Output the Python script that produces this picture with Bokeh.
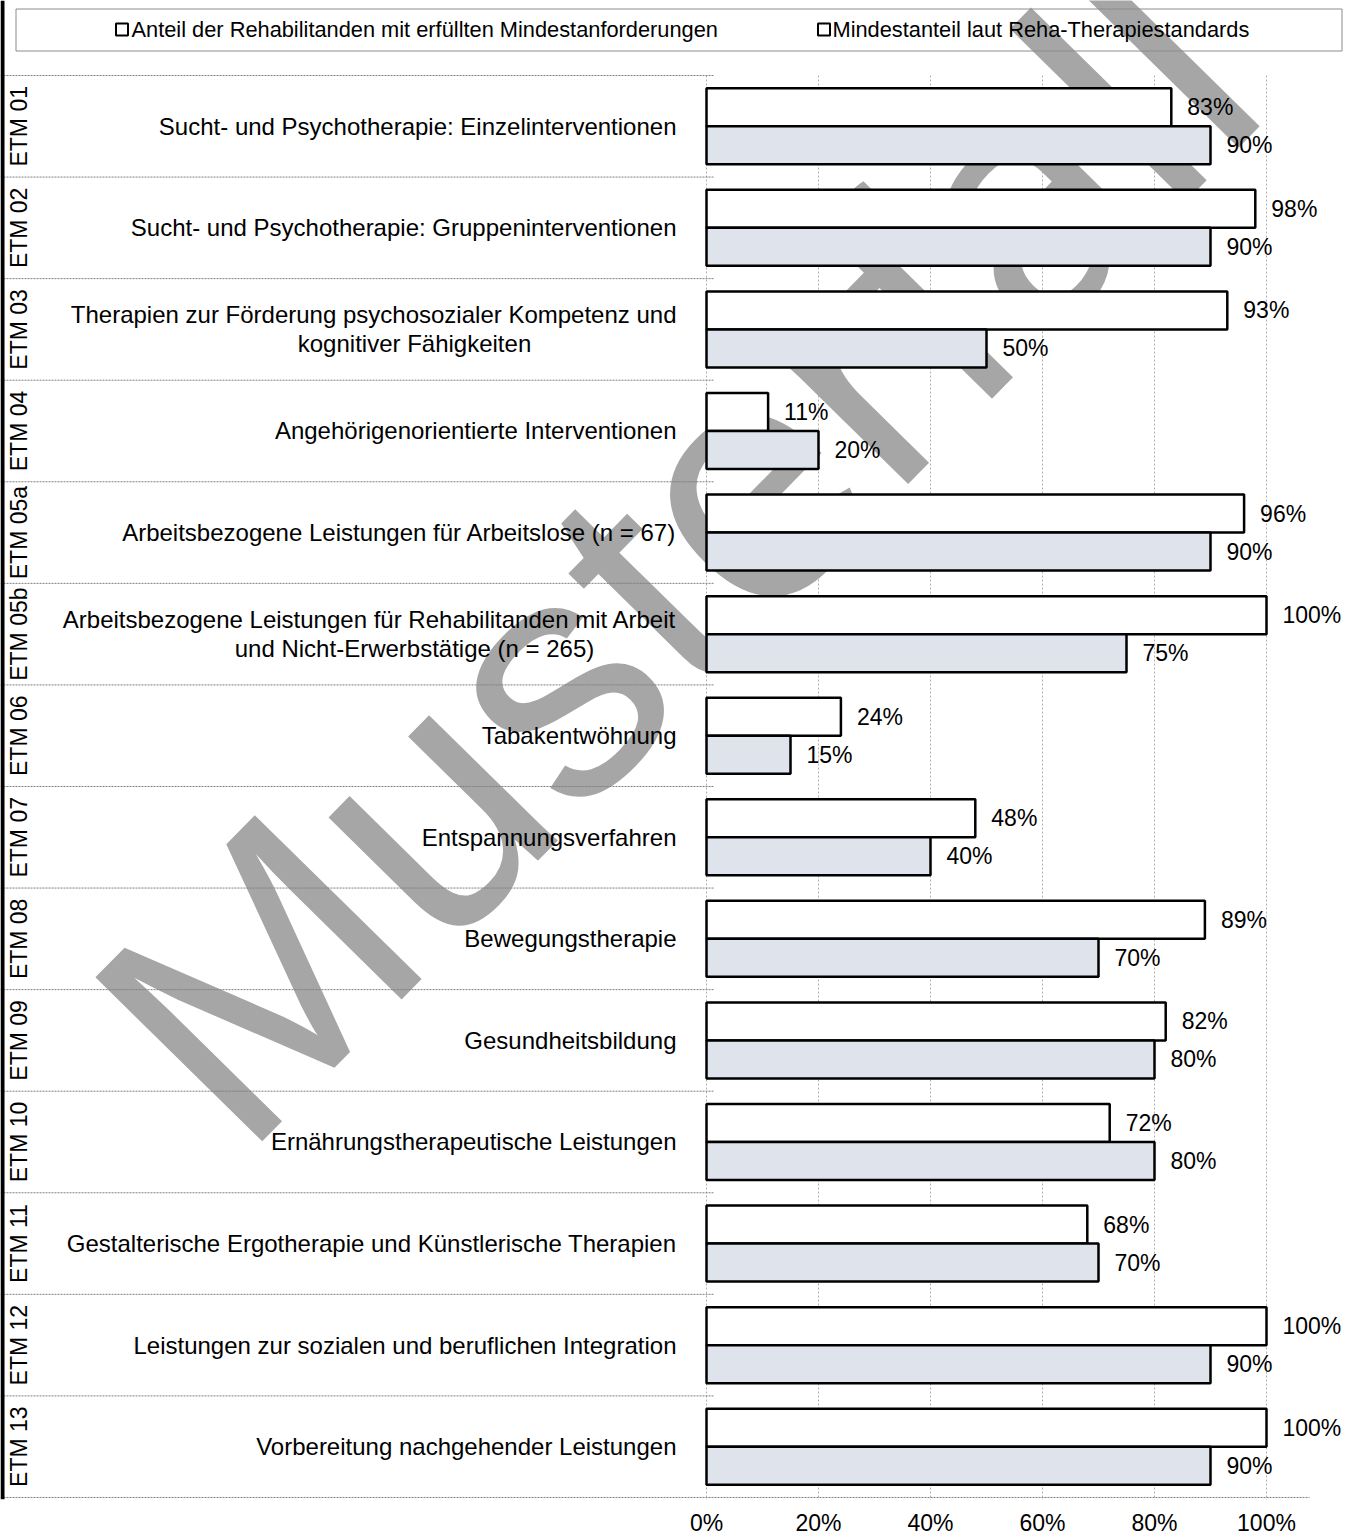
import math
from bokeh.plotting import figure
from bokeh.models import Range1d, FixedTicker, Span
from bokeh.core.properties import value
from bokeh.embed import file_html
from bokeh.resources import INLINE

# ---------------- data ----------------
codes = ["ETM 01", "ETM 02", "ETM 03", "ETM 04", "ETM 05a", "ETM 05b", "ETM 06",
         "ETM 07", "ETM 08", "ETM 09", "ETM 10", "ETM 11", "ETM 12", "ETM 13"]
labels = [
    "Sucht- und Psychotherapie: Einzelinterventionen",
    "Sucht- und Psychotherapie: Gruppeninterventionen",
    "Therapien zur Förderung psychosozialer Kompetenz und\nkognitiver Fähigkeiten",
    "Angehörigenorientierte Interventionen",
    "Arbeitsbezogene Leistungen für Arbeitslose (n = 67)",
    "Arbeitsbezogene Leistungen für Rehabilitanden mit Arbeit\nund Nicht-Erwerbstätige (n = 265)",
    "Tabakentwöhnung",
    "Entspannungsverfahren",
    "Bewegungstherapie",
    "Gesundheitsbildung",
    "Ernährungstherapeutische Leistungen",
    "Gestalterische Ergotherapie und Künstlerische Therapien",
    "Leistungen zur sozialen und beruflichen Integration",
    "Vorbereitung nachgehender Leistungen",
]
actual = [83, 98, 93, 11, 96, 100, 24, 48, 89, 82, 72, 68, 100, 100]
standard = [90, 90, 50, 20, 90, 75, 15, 40, 70, 80, 80, 70, 90, 90]
ticks = [0, 20, 40, 60, 80, 100]
legend_labels = ["Anteil der Rehabilitanden mit erfüllten Mindestanforderungen",
                 "Mindestanteil laut Reha-Therapiestandards"]
watermark = "Musterfall"

# ---------------- layout ----------------
W, H = 1358, 1499          # frame size in px
X0 = 706                   # px position of 0 %
PX = 5.6                   # px per percent
U = 101.57                 # px per category row
SEP_TOP = 75               # px of the first row separator
FONT = "Liberation Sans"
BAR_H = 38 / U

def X(fx):
    return (fx - X0) / PX

y_top = -SEP_TOP / U
def Y(fy):
    return y_top + fy / U

x_start, x_end = X(0), X(W)
y_bottom = Y(H)
n = len(codes)

p = figure(frame_width=W, frame_height=H, min_border=0,
           x_range=Range1d(x_start, x_end), y_range=Range1d(y_bottom, y_top),
           output_backend="svg", toolbar_location=None,
           y_axis_location=None, outline_line_color=None)
p.xgrid.visible = False
p.ygrid.visible = False
p.background_fill_color = "white"
p.border_fill_color = "white"

# x axis
ax = p.xaxis[0]
ax.ticker = FixedTicker(ticks=ticks)
ax.major_label_overrides = {t: f"{t}%" for t in ticks}
ax.axis_line_color = None
ax.major_tick_line_color = None
ax.minor_tick_line_color = None
ax.major_label_text_font = FONT
ax.major_label_text_font_size = "23px"
ax.major_label_text_color = "black"
ax.major_label_standoff = 4

# vertical grid lines
p.segment(x0=ticks, x1=ticks, y0=[0] * len(ticks), y1=[n + 8 / U] * len(ticks),
          line_color="#b0b0b0", line_width=1, line_dash="2 2", level="underlay")

# watermark
p.text(x=[X(158)], y=[Y(1078)], text=[watermark], angle=math.radians(45.5),
       text_font=value(FONT), text_font_size="340px", text_color="#a6a6a6",
       text_align="left", text_baseline="alphabetic", level="underlay")

# category separators
seps = list(range(n + 1))
p.segment(x0=[x_start] * len(seps), x1=[X(713)] * (len(seps) - 1) + [X(1309)],
          y0=seps, y1=seps, line_color="#7f7f7f", line_width=1, line_dash="2 1")

# bars
centers = [i + 0.5 for i in range(n)]
y_act = [c - BAR_H / 2 for c in centers]
y_std = [c + BAR_H / 2 for c in centers]
p.hbar(y=y_act, left=0, right=actual, height=BAR_H, fill_color="white",
       line_color="black", line_width=2.5)
p.hbar(y=y_std, left=0, right=standard, height=BAR_H, fill_color="#dfe3ec",
       line_color="black", line_width=2.5)

# value labels
p.text(x=actual, y=y_act, text=[f"{v}%" for v in actual], x_offset=16,
       text_font=value(FONT), text_font_size="23px", text_color="black",
       text_align="left", text_baseline="middle")
p.text(x=standard, y=y_std, text=[f"{v}%" for v in standard], x_offset=16,
       text_font=value(FONT), text_font_size="23px", text_color="black",
       text_align="left", text_baseline="middle")

# category labels
one_y, one_t = [], []
l1_y, l1_t, l2_y, l2_t = [], [], [], []
for c, lab in zip(centers, labels):
    parts = lab.split("\n")
    if len(parts) == 1:
        one_y.append(c); one_t.append(lab)
    else:
        l1_y.append(c - 14.5 / U); l1_t.append(parts[0])
        l2_y.append(c + 14.5 / U); l2_t.append(parts[1])
p.text(x=[0] * len(one_t), y=one_y, text=one_t, x_offset=-30,
       text_font=value(FONT), text_font_size="24px", text_color="black",
       text_align="right", text_baseline="middle")
p.text(x=[0] * len(l1_t), y=l1_y, text=l1_t, x_offset=-30,
       text_font=value(FONT), text_font_size="24px", text_color="black",
       text_align="right", text_baseline="middle")
p.text(x=[0] * len(l2_t), y=l2_y, text=l2_t, x_offset=-292,
       text_font=value(FONT), text_font_size="24px", text_color="black",
       text_align="center", text_baseline="middle")

# codes (rotated)
p.text(x=[x_start] * n, y=centers, text=codes, x_offset=18.5, angle=math.pi / 2,
       text_font=value(FONT), text_font_size="23px", text_color="black",
       text_align="center", text_baseline="middle")

# legend
p.quad(left=[X(15.5)], right=[X(1341.5)], top=[Y(8.5)], bottom=[Y(50.5)],
       fill_color=None, line_color="#8c8c8c", line_width=1)
leg_sq_x = [X(121.5), X(823.5)]
leg_tx_x = [X(131), X(832)]
p.rect(x=leg_sq_x, y=[Y(29)] * 2, width=12, height=12, width_units="screen",
       height_units="screen", fill_color="white", line_color="black", line_width=2)
p.text(x=leg_tx_x, y=[Y(29)] * 2, text=legend_labels,
       text_font=value(FONT), text_font_size="21.8px", text_color="black",
       text_align="left", text_baseline="middle")

# thick left border
p.add_layout(Span(location=X(2), dimension="height", line_color="black",
                  line_width=4))

open("out.html", "w").write(file_html(p, INLINE))
